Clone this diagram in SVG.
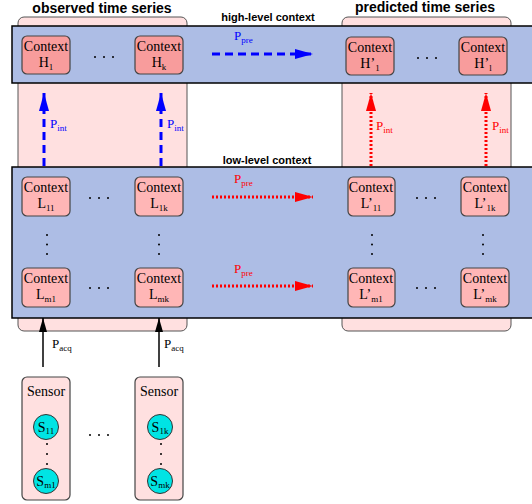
<svg xmlns="http://www.w3.org/2000/svg" width="532" height="504" viewBox="0 0 532 504">
<style>
.col{fill:#ffe0e0;stroke:#555;stroke-width:1}
.band{fill:#adbde5;stroke:#000;stroke-width:1.5}
.hbox{fill:#f89c9c;stroke:#444;stroke-width:1.2}
.lbox{fill:#ffb6b6;stroke:#444;stroke-width:1.2}
.sbox{fill:#ffe0e0;stroke:#444;stroke-width:1.2}
.circ{fill:#00e4e4;stroke:#333;stroke-width:1}
.ctx{font-family:'Liberation Serif','DejaVu Serif',serif;font-size:14px;fill:#000;text-anchor:middle}
.sub{font-size:9px}
.ttl{font-family:'Liberation Sans',Arial,sans-serif;font-weight:bold;font-size:14px;fill:#000;text-anchor:middle}
.lvl{font-family:'Liberation Sans',Arial,sans-serif;font-weight:bold;font-size:11px;fill:#000;text-anchor:middle}
.pl{font-family:'Liberation Serif','DejaVu Serif',serif;font-size:13px}
.pb{fill:#0000ff}
.pr{fill:#ff0000}
.pk{fill:#000}
.dot{fill:#000}
.bd{stroke:#0000ff;stroke-width:3;stroke-dasharray:8 5;fill:none}
.rd{stroke:#ff0000;stroke-width:3;stroke-dasharray:2 2;fill:none}
.kd{stroke:#000;stroke-width:1.5;fill:none}
</style>
<defs>
<marker id="ab" markerUnits="userSpaceOnUse" markerWidth="18" markerHeight="12" refX="18" refY="6" orient="auto"><path d="M0,1 L18,6 L0,11 z" fill="#0000ff"/></marker>
<marker id="ar" markerUnits="userSpaceOnUse" markerWidth="18" markerHeight="12" refX="18" refY="6" orient="auto"><path d="M0,1 L18,6 L0,11 z" fill="#ff0000"/></marker>
<marker id="ak" markerUnits="userSpaceOnUse" markerWidth="14" markerHeight="10" refX="14" refY="5" orient="auto"><path d="M0,1 L14,5 L0,9 z" fill="#000"/></marker>
</defs>

<rect width="532" height="504" fill="#fff"/>

<g id="observed-column">
<rect class="col" x="18" y="17" width="169" height="314" rx="6"/>
<text class="ttl" x="102" y="13">observed time series</text>
</g>
<g id="predicted-column">
<rect class="col" x="342" y="17" width="169" height="314" rx="6"/>
<text class="ttl" x="425" y="12">predicted time series</text>
</g>

<g id="high-level-band">
<rect class="band" x="12" y="26" width="530" height="57"/>
<text class="lvl" x="268" y="21">high-level context</text>
</g>
<g id="low-level-band">
<rect class="band" x="12" y="167" width="530" height="151"/>
<text class="lvl" x="267" y="164">low-level context</text>
</g>

<g id="H1"><rect class="hbox" x="22" y="36" width="48" height="38" rx="5"/>
<text class="ctx" x="46" y="51">Context</text><text class="ctx" x="46" y="67">H<tspan class="sub" dy="3">1</tspan></text></g>
<g id="Hk"><rect class="hbox" x="135" y="36" width="48" height="38" rx="5"/>
<text class="ctx" x="159" y="51">Context</text><text class="ctx" x="159" y="67">H<tspan class="sub" dy="3">k</tspan></text></g>
<g id="H1p"><rect class="hbox" x="346" y="37" width="48" height="38" rx="5"/>
<text class="ctx" x="370" y="52">Context</text><text class="ctx" x="370" y="68">H’<tspan class="sub" dy="3">1</tspan></text></g>
<g id="Hlp"><rect class="hbox" x="459" y="37" width="48" height="38" rx="5"/>
<text class="ctx" x="483" y="52">Context</text><text class="ctx" x="483" y="68">H’<tspan class="sub" dy="3">l</tspan></text></g>

<g id="L11"><rect class="lbox" x="22" y="177" width="48" height="39" rx="5"/>
<text class="ctx" x="46" y="192">Context</text><text class="ctx" x="46" y="208">L<tspan class="sub" dy="3">11</tspan></text></g>
<g id="L1k"><rect class="lbox" x="135" y="177" width="48" height="39" rx="5"/>
<text class="ctx" x="159" y="192">Context</text><text class="ctx" x="159" y="208">L<tspan class="sub" dy="3">1k</tspan></text></g>
<g id="Lm1"><rect class="lbox" x="22" y="268" width="48" height="39" rx="5"/>
<text class="ctx" x="46" y="283">Context</text><text class="ctx" x="46" y="299">L<tspan class="sub" dy="3">m1</tspan></text></g>
<g id="Lmk"><rect class="lbox" x="135" y="268" width="48" height="39" rx="5"/>
<text class="ctx" x="159" y="283">Context</text><text class="ctx" x="159" y="299">L<tspan class="sub" dy="3">mk</tspan></text></g>

<g id="L11p"><rect class="lbox" x="348" y="177" width="47" height="39" rx="5"/>
<text class="ctx" x="371" y="192">Context</text><text class="ctx" x="371" y="208">L’<tspan class="sub" dy="3">11</tspan></text></g>
<g id="L1kp"><rect class="lbox" x="461" y="177" width="48" height="39" rx="5"/>
<text class="ctx" x="485" y="192">Context</text><text class="ctx" x="485" y="208">L’<tspan class="sub" dy="3">1k</tspan></text></g>
<g id="Lm1p"><rect class="lbox" x="348" y="268" width="47" height="39" rx="5"/>
<text class="ctx" x="371" y="283">Context</text><text class="ctx" x="371" y="299">L’<tspan class="sub" dy="3">m1</tspan></text></g>
<g id="Lmkp"><rect class="lbox" x="461" y="268" width="48" height="39" rx="5"/>
<text class="ctx" x="485" y="283">Context</text><text class="ctx" x="485" y="299">L’<tspan class="sub" dy="3">mk</tspan></text></g>

<g id="sensor1"><rect class="sbox" x="22" y="377" width="48" height="123" rx="5"/>
<text class="ctx" x="46" y="396">Sensor</text>
<circle class="circ" cx="46" cy="427" r="12.5"/><text class="ctx" x="46" y="432">S<tspan class="sub" dy="2">11</tspan></text>
<circle class="circ" cx="46" cy="481" r="12.5"/><text class="ctx" x="46" y="486">S<tspan class="sub" dy="2">m1</tspan></text>
<circle class="dot" cx="47" cy="444" r="1"/><circle class="dot" cx="47" cy="454" r="1"/><circle class="dot" cx="47" cy="464" r="1"/>
</g>
<g id="sensork"><rect class="sbox" x="135" y="377" width="48" height="123" rx="5"/>
<text class="ctx" x="159" y="396">Sensor</text>
<circle class="circ" cx="160" cy="427" r="12.5"/><text class="ctx" x="160" y="432">S<tspan class="sub" dy="2">1k</tspan></text>
<circle class="circ" cx="160" cy="481" r="12.5"/><text class="ctx" x="160" y="486">S<tspan class="sub" dy="2">mk</tspan></text>
<circle class="dot" cx="161" cy="444" r="1"/><circle class="dot" cx="161" cy="454" r="1"/><circle class="dot" cx="161" cy="464" r="1"/>
</g>

<g id="ellipses">
<circle class="dot" cx="95" cy="57" r="1"/><circle class="dot" cx="104" cy="57" r="1"/><circle class="dot" cx="113" cy="57" r="1"/>
<circle class="dot" cx="418" cy="58" r="1"/><circle class="dot" cx="427" cy="58" r="1"/><circle class="dot" cx="436" cy="58" r="1"/>
<circle class="dot" cx="90" cy="198" r="1"/><circle class="dot" cx="99" cy="198" r="1"/><circle class="dot" cx="108" cy="198" r="1"/>
<circle class="dot" cx="90" cy="288" r="1"/><circle class="dot" cx="99" cy="288" r="1"/><circle class="dot" cx="108" cy="288" r="1"/>
<circle class="dot" cx="417" cy="198" r="1"/><circle class="dot" cx="426" cy="198" r="1"/><circle class="dot" cx="435" cy="198" r="1"/>
<circle class="dot" cx="417" cy="288" r="1"/><circle class="dot" cx="426" cy="288" r="1"/><circle class="dot" cx="435" cy="288" r="1"/>
<circle class="dot" cx="47" cy="235" r="1"/><circle class="dot" cx="47" cy="244.5" r="1"/><circle class="dot" cx="47" cy="254" r="1"/>
<circle class="dot" cx="159" cy="235" r="1"/><circle class="dot" cx="159" cy="244.5" r="1"/><circle class="dot" cx="159" cy="254" r="1"/>
<circle class="dot" cx="372" cy="235" r="1"/><circle class="dot" cx="372" cy="244.5" r="1"/><circle class="dot" cx="372" cy="254" r="1"/>
<circle class="dot" cx="483" cy="235" r="1"/><circle class="dot" cx="483" cy="244.5" r="1"/><circle class="dot" cx="483" cy="254" r="1"/>
<circle class="dot" cx="90" cy="435" r="1"/><circle class="dot" cx="99" cy="435" r="1"/><circle class="dot" cx="108" cy="435" r="1"/>
</g>

<g id="connectors">
<line class="bd" x1="212" y1="54" x2="313" y2="54" marker-end="url(#ab)"/>
<line class="rd" x1="212" y1="197" x2="313" y2="197" marker-end="url(#ar)"/>
<line class="rd" x1="212" y1="286" x2="313" y2="286" marker-end="url(#ar)"/>
<line class="bd" x1="44" y1="166" x2="44" y2="93" marker-end="url(#ab)"/>
<line class="bd" x1="161" y1="166" x2="161" y2="93" marker-end="url(#ab)"/>
<line class="rd" x1="371" y1="166" x2="371" y2="93" marker-end="url(#ar)"/>
<line class="rd" x1="486" y1="166" x2="486" y2="93" marker-end="url(#ar)"/>
<line class="kd" x1="43" y1="367" x2="43" y2="318" marker-end="url(#ak)"/>
<line class="kd" x1="159" y1="367" x2="159" y2="318" marker-end="url(#ak)"/>
<text class="pl pb" x="234" y="40">P<tspan class="sub" dy="3">pre</tspan></text>
<text class="pl pr" x="234" y="183">P<tspan class="sub" dy="3">pre</tspan></text>
<text class="pl pr" x="234" y="273">P<tspan class="sub" dy="3">pre</tspan></text>
<text class="pl pb" x="50" y="128">P<tspan class="sub" dy="3">int</tspan></text>
<text class="pl pb" x="167" y="128">P<tspan class="sub" dy="3">int</tspan></text>
<text class="pl pr" x="376" y="130">P<tspan class="sub" dy="3">int</tspan></text>
<text class="pl pr" x="492" y="130">P<tspan class="sub" dy="3">int</tspan></text>
<text class="pl pk" x="52" y="348">P<tspan class="sub" dy="3">acq</tspan></text>
<text class="pl pk" x="164" y="348">P<tspan class="sub" dy="3">acq</tspan></text>
</g>
</svg>
